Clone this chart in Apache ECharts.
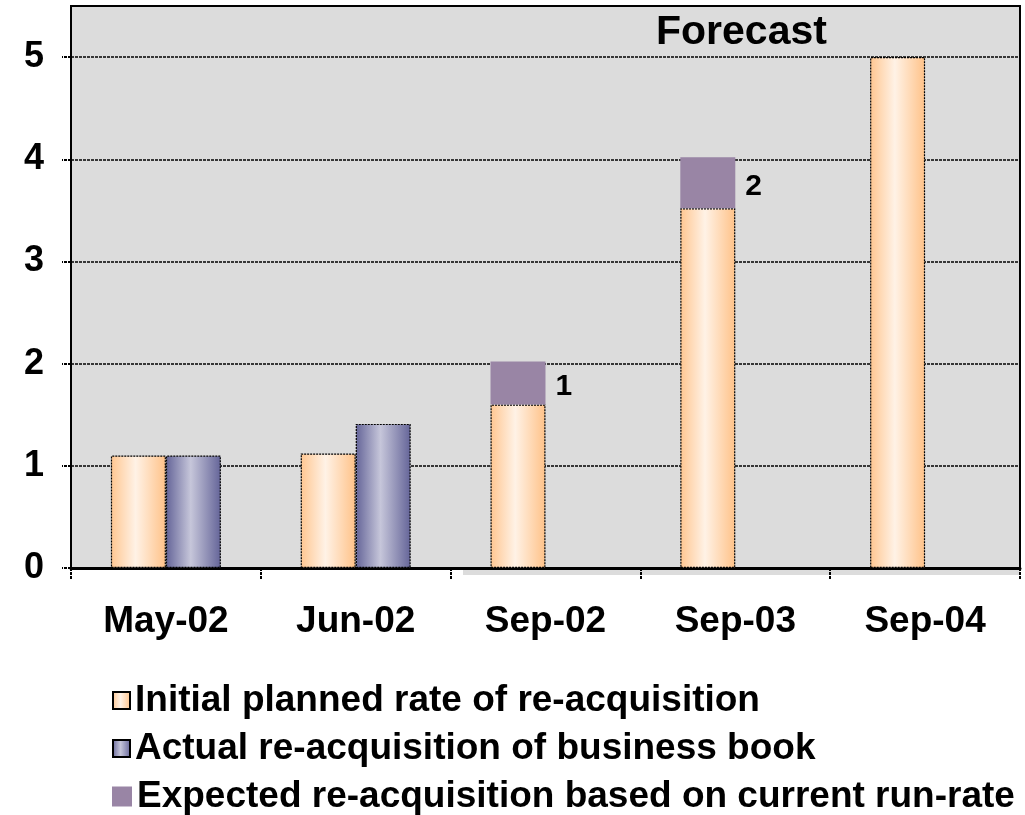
<!DOCTYPE html>
<html>
<head>
<meta charset="utf-8">
<script src="https://cdn.jsdelivr.net/npm/echarts@6/dist/echarts.min.js"></script>
<style>
  html, body { margin: 0; padding: 0; background: #ffffff; }
  #chart { width: 1025px; height: 815px; }
</style>
</head>
<body>
<div id="chart"></div>
<script>
// Re-acquisition of the business book: plan vs actual vs run-rate expectation
var categories = ['May-02', 'Jun-02', 'Sep-02', 'Sep-03', 'Sep-04'];
var initialPlanned = [1.1, 1.12, 1.6, 3.52, 5.0];
var actual = [1.1, 1.41, null, null, null];
var expectedExtra = [null, null, 0.42, 0.5, null];   // stacked on top of the plan
var footnotes = ['', '', '1', '2', ''];
var yTicks = [0, 1, 2, 3, 4, 5];

var seriesNames = [
  'Initial planned rate of re-acquisition',
  'Actual re-acquisition of business book',
  'Expected re-acquisition based on current run-rate'
];

var FONT = '"Liberation Sans", Arial, Helvetica, sans-serif';

var orangeFill = new echarts.graphic.LinearGradient(0, 0, 1, 0, [
  { offset: 0, color: '#FFC690' },
  { offset: 0.45, color: '#FFF2E6' },
  { offset: 1, color: '#FFC288' }
]);
var blueFill = new echarts.graphic.LinearGradient(0, 0, 1, 0, [
  { offset: 0, color: '#646498' },
  { offset: 0.45, color: '#C6C6DA' },
  { offset: 1, color: '#646498' }
]);

var legendText = { fontFamily: FONT, fontWeight: 'bold', fontSize: 37, color: '#000000' };

// one legend block per row so the rows stack in a single column
function legendRow(name, top, size) {
  return {
    orient: 'vertical',
    left: 112, top: top,
    icon: 'rect',
    itemWidth: size, itemHeight: size,
    padding: 0,
    textStyle: legendText,
    data: [name]
  };
}

var chart = echarts.init(document.getElementById('chart'), null, { renderer: 'canvas' });

chart.setOption({
  animation: false,
  backgroundColor: '#ffffff',
  grid: {
    left: 71, right: 5, top: 6, bottom: 247,
    show: true,
    backgroundColor: '#DCDCDC',
    borderColor: '#000000',
    borderWidth: 2
  },
  graphic: [
    {
      type: 'text',
      left: 656, top: 12,
      style: { text: 'Forecast', font: 'bold 41px ' + FONT, fill: '#000000' }
    },
    {
      type: 'rect',
      shape: { x: 463, y: 570, width: 557, height: 5 },
      style: { fill: '#DCDCDC' },
      z: -1
    }
  ],
  legend: [
    legendRow(seriesNames[0], 682, 17),
    legendRow(seriesNames[1], 730, 17),
    legendRow(seriesNames[2], 778, 20)
  ],
  xAxis: {
    type: 'category',
    data: categories,
    axisLine: { lineStyle: { color: '#000000', width: 3 } },
    axisTick: { show: true, length: 12, lineStyle: { color: '#000000', width: 2, type: [3, 1] } },
    axisLabel: { margin: 35, fontFamily: FONT, fontWeight: 'bold', fontSize: 37, color: '#000000' },
    splitLine: { show: false }
  },
  yAxis: {
    type: 'value',
    min: 0, max: 5.5, interval: 1,
    axisLine: { show: true, lineStyle: { color: '#000000', width: 2 } },
    axisTick: {
      show: true, length: 9, customValues: yTicks,
      lineStyle: { color: '#000000', width: 2, type: [3, 1] }
    },
    axisLabel: {
      margin: 27, fontFamily: FONT, fontWeight: 'bold', fontSize: 36, color: '#000000',
      customValues: yTicks,
      formatter: function (v) { return yTicks.indexOf(v) >= 0 ? String(v) : ''; }
    },
    splitLine: { show: true, lineStyle: { color: '#000000', width: 1.5, type: [3, 1] } }
  },
  series: [
    {
      name: seriesNames[0],
      type: 'bar',
      stack: 'plan',
      barWidth: 55,
      barGap: '0%',
      data: initialPlanned,
      itemStyle: { color: orangeFill, borderColor: '#000000', borderWidth: 1.2, borderType: [2, 1] },
      z: 3
    },
    {
      name: seriesNames[1],
      type: 'bar',
      barWidth: 55,
      barGap: '0%',
      data: actual,
      itemStyle: { color: blueFill, borderColor: '#000000', borderWidth: 1.2, borderType: [2, 1] },
      z: 3
    },
    {
      name: seriesNames[2],
      type: 'bar',
      stack: 'plan',
      barWidth: 55,
      barGap: '0%',
      data: expectedExtra,
      itemStyle: { color: '#9985A5' },
      label: {
        show: true,
        position: 'right',
        distance: 10,
        offset: [0, 4],
        fontFamily: FONT, fontWeight: 'bold', fontSize: 30, color: '#000000',
        formatter: function (p) { return footnotes[p.dataIndex]; }
      },
      z: 3
    }
  ]
});
</script>
</body>
</html>
